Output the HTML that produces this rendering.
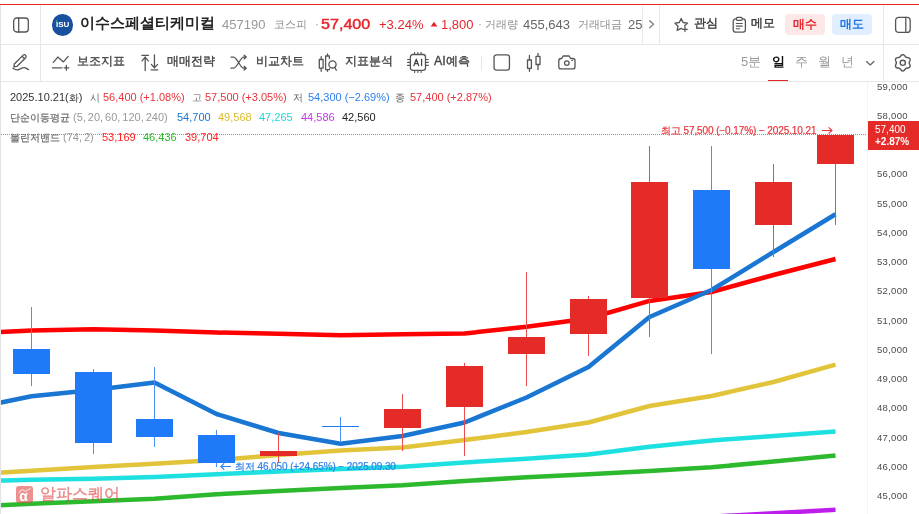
<!DOCTYPE html>
<html lang="ko">
<head>
<meta charset="utf-8">
<title>이수스페셜티케미컬 차트</title>
<style>
*{box-sizing:border-box;margin:0;padding:0}
html,body{width:919px;height:514px;overflow:hidden;background:#fff}
body{position:relative;font-family:"Liberation Sans",sans-serif;color:#333;-webkit-font-smoothing:antialiased}
.abs,.t{position:absolute;white-space:nowrap}
.t{line-height:1}
.hl{position:absolute;height:1px;background:#e7e7e7}
.vl{position:absolute;width:1px;background:#e7e7e7}
svg{position:absolute;overflow:visible}
svg.chart{left:0;top:0}
.ic{fill:none;stroke:#555;stroke-width:1.3;stroke-linecap:round;stroke-linejoin:round}
.g9{color:#999}.g6{color:#666}.g4{color:#444}
.r{color:#e8242b}.b{color:#2f80ed}
.f16{font-size:16px}.f14{font-size:14px}.f13{font-size:13px}.f12{font-size:12px}.f11{font-size:11px}.f10{font-size:10px}
.bd{font-weight:bold}
.tb{font-size:12.4px;-webkit-text-stroke:.35px #444}
.btn{position:absolute;top:14px;width:40px;height:21px;border-radius:4px;font-size:11.5px;font-weight:bold;text-align:center;line-height:21px}
.ax{position:absolute;left:877px;font-size:9.5px;line-height:10px;color:#4a4a4a;letter-spacing:.3px;margin-top:-1.5px}
</style>
</head>
<body>
<div id="root" style="position:absolute;left:0;top:0;width:919px;height:514px;will-change:transform">

<!-- frame -->
<div class="abs" style="left:0;top:4px;width:919px;height:1px;background:#e8242b"></div>
<div class="hl" style="left:0;top:44px;width:919px"></div>
<div class="hl" style="left:0;top:81px;width:919px"></div>
<div class="vl" style="left:40px;top:5px;height:76px"></div>
<div class="vl" style="left:883px;top:5px;height:76px"></div>
<div class="vl" style="left:659px;top:5px;height:39px"></div>
<div class="vl" style="left:867px;top:82px;height:432px;background:#f4f4f4"></div>

<!-- chart -->
<svg class="chart" width="919" height="514" viewBox="0 0 919 514">
<line x1="1" y1="134.5" x2="866" y2="134.5" stroke="#ee6a6e" stroke-width="1" stroke-dasharray="1 1" shape-rendering="crispEdges"/>
<polyline points="-30.50,560.00 31.50,556.00 93.50,552.00 154.50,548.00 216.50,545.00 278.50,541.00 340.50,538.00 402.50,534.00 464.50,531.00 526.50,527.00 588.50,523.70 649.50,520.20 711.50,516.70 773.50,513.20 835.50,509.75" fill="none" stroke="#be1eeb" stroke-width="4.5" stroke-linejoin="round"/>
<polyline points="-30.50,506.80 31.50,503.70 93.50,501.25 154.50,498.75 216.50,494.30 278.50,491.00 340.50,488.00 402.50,485.30 464.50,481.00 526.50,477.30 588.50,474.30 649.50,471.00 711.50,467.25 773.50,461.50 835.50,455.50" fill="none" stroke="#2db92d" stroke-width="4.5" stroke-linejoin="round"/>
<polyline points="-30.50,481.50 31.50,479.80 93.50,478.75 154.50,477.00 216.50,474.20 278.50,471.50 340.50,469.00 402.50,466.75 464.50,462.50 526.50,458.75 588.50,454.50 649.50,446.75 711.50,440.50 773.50,436.00 835.50,431.50" fill="none" stroke="#1ee0e0" stroke-width="4.5" stroke-linejoin="round"/>
<polyline points="-30.50,474.50 31.50,470.75 93.50,467.00 154.50,463.75 216.50,460.00 278.50,455.00 340.50,450.50 402.50,447.50 464.50,440.00 526.50,432.00 588.50,422.50 649.50,406.00 711.50,396.00 773.50,382.00 835.50,364.70" fill="none" stroke="#e1c43a" stroke-width="4.5" stroke-linejoin="round"/>
<polyline points="-30.50,333.50 31.50,330.60 93.50,329.25 154.50,330.50 216.50,332.50 278.50,333.75 340.50,335.25 402.50,334.25 464.50,333.50 526.50,326.75 588.50,318.50 649.50,300.90 711.50,292.00 773.50,275.00 835.50,259.00" fill="none" stroke="#ff0000" stroke-width="4.5" stroke-linejoin="round"/>
<polyline points="-30.50,409.00 31.50,396.25 93.50,390.00 154.50,382.50 216.50,414.00 278.50,433.00 340.50,443.75 402.50,436.00 464.50,422.50 526.50,397.50 588.50,367.00 649.50,317.00 711.50,290.00 773.50,252.00 835.50,214.25" fill="none" stroke="#1976d2" stroke-width="4.5" stroke-linejoin="round"/>
<g shape-rendering="crispEdges">
<rect x="31" y="307.00" width="1" height="79.25" fill="#4a92fb"/>
<rect x="13" y="348.75" width="37" height="25.50" fill="#1f7afa"/>
<rect x="93" y="368.75" width="1" height="85.00" fill="#4a92fb"/>
<rect x="75" y="372.00" width="37" height="71.25" fill="#1f7afa"/>
<rect x="154" y="367.00" width="1" height="79.75" fill="#4a92fb"/>
<rect x="136" y="419.00" width="37" height="17.50" fill="#1f7afa"/>
<rect x="216" y="430.00" width="1" height="37.00" fill="#4a92fb"/>
<rect x="198" y="435.00" width="37" height="27.50" fill="#1f7afa"/>
<rect x="278" y="433.00" width="1" height="29.50" fill="#ea4e4c"/>
<rect x="260" y="451.25" width="37" height="4.25" fill="#e52b28"/>
<rect x="340" y="416.75" width="1" height="25.75" fill="#4a92fb"/>
<rect x="322" y="426.25" width="37" height="1.00" fill="#1f7afa"/>
<rect x="402" y="393.50" width="1" height="57.25" fill="#ea4e4c"/>
<rect x="384" y="409.00" width="37" height="18.50" fill="#e52b28"/>
<rect x="464" y="363.00" width="1" height="92.50" fill="#ea4e4c"/>
<rect x="446" y="365.60" width="37" height="41.20" fill="#e52b28"/>
<rect x="526" y="271.75" width="1" height="114.50" fill="#ea4e4c"/>
<rect x="508" y="336.80" width="37" height="16.95" fill="#e52b28"/>
<rect x="588" y="295.50" width="1" height="60.00" fill="#ea4e4c"/>
<rect x="570" y="299.00" width="37" height="35.00" fill="#e52b28"/>
<rect x="649" y="146.20" width="1" height="190.50" fill="#ea4e4c"/>
<rect x="631" y="182.00" width="37" height="116.30" fill="#e52b28"/>
<rect x="711" y="146.20" width="1" height="207.60" fill="#4a92fb"/>
<rect x="693" y="190.10" width="37" height="78.70" fill="#1f7afa"/>
<rect x="773" y="163.80" width="1" height="93.20" fill="#ea4e4c"/>
<rect x="755" y="182.00" width="37" height="42.80" fill="#e52b28"/>
<rect x="835" y="134.00" width="1" height="90.50" fill="#ea4e4c"/>
<rect x="817" y="135.00" width="37" height="28.60" fill="#e52b28"/>
</g>
</svg>
<div class="vl" style="left:0;top:5px;height:509px;background:#e2e2e2"></div>

<!-- top bar -->
<svg style="left:12px;top:16px" width="18" height="18" viewBox="0 0 18 18"><rect class="ic" x="1.7" y="2" width="14.6" height="14" rx="3"/><line class="ic" x1="6.7" y1="2" x2="6.7" y2="16"/></svg>

<div class="abs" style="left:51.8px;top:14px;width:21.6px;height:21.6px;border-radius:50%;background:#17509f;color:#fff;font-size:8px;font-weight:bold;line-height:22.4px;text-align:center;letter-spacing:0">ISU<span style="position:absolute;left:4.2px;top:6.4px;width:1.4px;height:1.4px;border-radius:50%;background:#3fbf6a"></span></div>

<div class="t bd" style="left:80px;top:16px;font-size:14.8px;color:#222">이수스페셜티케미컬</div>
<div class="t f13 g9" style="left:222px;top:18px">457190</div>
<div class="t" style="left:274px;top:18.5px;font-size:11.1px;color:#8e8e8e">코스피</div>
<div class="t f12 g9" style="left:315px;top:18px">·</div>
<div class="t r" style="left:321px;top:17px;font-size:14px;transform:scaleX(1.15);transform-origin:0 0;-webkit-text-stroke:.45px #e8242b">57,400</div>
<div class="t f13 r" style="left:379px;top:18px">+3.24%</div>
<svg style="left:430px;top:20px" width="8" height="8" viewBox="0 0 8 8"><path d="M4 1.8 L7.4 6.6 L0.6 6.6 Z" fill="#e8242b"/></svg>
<div class="t f13 r" style="left:441px;top:18px">1,800</div>
<div class="t f12 g9" style="left:478px;top:18px">·</div>
<div class="t" style="left:484.5px;top:18.5px;font-size:11.1px;color:#8e8e8e">거래량</div>
<div class="t f13 g6" style="left:523px;top:18px">455,643</div>
<div class="t" style="left:577.5px;top:18.5px;font-size:11.1px;color:#8e8e8e">거래대금</div>
<div class="t f13 g6" style="left:628px;top:18px">25</div>
<div class="abs" style="left:642px;top:6px;width:17px;height:38px;background:#fff;border-left:1px solid #e9e9e9"></div>
<svg style="left:647px;top:19px" width="10" height="12" viewBox="0 0 10 12"><path class="ic" style="stroke:#8a8a8a;stroke-width:1.5" d="M2.7 1.9 L6.6 5.3 L2.7 8.7"/></svg>

<svg style="left:672px;top:17px" width="18" height="16" viewBox="0 0 18 16"><path class="ic" d="M9.2 1.6 L11.1 5.5 L15.5 6.1 L12.7 8.8 M9.2 1.6 L7.3 5.5 L2.9 6.1 L6 9.2 L5.2 13.4 L9.2 11.3 L9.9 11.7 M13 10 V14.6 M10.7 12.3 H15.3"/></svg>
<div class="t" style="left:694px;top:17px;font-size:12px;color:#333;-webkit-text-stroke:.35px #333">관심</div>
<svg style="left:731px;top:15px" width="17" height="19" viewBox="0 0 17 19"><rect class="ic" x="2.2" y="3.9" width="12.2" height="13.3" rx="2.4"/><rect class="ic" x="5.4" y="2.4" width="5.8" height="2.9" rx="1.2" style="fill:#fff"/><path class="ic" style="stroke-width:1.1" d="M5.3 8.5 H11.3 M5.3 11.1 H11.3 M5.3 13.7 H8.7"/></svg>
<div class="t" style="left:751px;top:17px;font-size:12px;color:#333;-webkit-text-stroke:.35px #333">메모</div>
<div class="btn" style="left:785px;background:#fde8e8;color:#e8242b">매수</div>
<div class="btn" style="left:832px;background:#e1eeff;color:#1a73e8">매도</div>
<svg style="left:894px;top:16px" width="18" height="18" viewBox="0 0 18 18"><rect class="ic" x="1.6" y="1.4" width="14.6" height="15" rx="3"/><line class="ic" x1="11.8" y1="1.4" x2="11.8" y2="16.4"/></svg>

<!-- second bar -->
<svg style="left:12px;top:54px" width="18" height="18" viewBox="0 0 18 18"><path class="ic" d="M2.33 9.93 L11.13 1.13 A1.8 1.8 0 0 1 13.67 3.67 L4.87 12.47 L1.9 12.9 Z M10.03 2.23 L12.57 4.77"/><path class="ic" d="M1 14.2 C2.8 15.6 5 16.4 7.2 15.4 S10.6 13.2 12.6 13.6 S15.2 15 16.4 15.6"/></svg>

<svg style="left:52px;top:55px" width="18" height="16" viewBox="0 0 18 16"><path class="ic" d="M1.3 7.3 L5.8 2.05 L11.4 6.9 L16.2 1.4"/><path class="ic" d="M0.4 12.85 H10 M14.35 10.5 V15.2 M12.1 12.85 H16.8"/></svg>
<div class="t g4 tb" style="left:77px;top:55px">보조지표</div>

<svg style="left:140px;top:54px" width="20" height="18" viewBox="0 0 20 18"><path class="ic" d="M1.9 1.3 H8.5 M5.2 3 V16.6 M2.1 6.9 L5.2 3.2 L8.3 6.9 M14.45 1 V13.6 M11.3 10.4 L14.45 13.8 L17.6 10.4 M11.2 15.9 H17.7"/></svg>
<div class="t g4 tb" style="left:167px;top:55px">매매전략</div>

<svg style="left:230px;top:54px" width="18" height="18" viewBox="0 0 18 18"><path class="ic" d="M1 3.05 H3.4 C7.4 3.05 10.2 14.2 13.6 14.2 H16 M1 14.2 H3.4 C7.4 14.2 10.2 3.05 13.6 3.05 H16 M14.1 1.2 L16.3 3.05 L14.1 4.9 M14.1 12.35 L16.3 14.2 L14.1 16.05"/></svg>
<div class="t g4 tb" style="left:256px;top:55px">비교차트</div>

<svg style="left:318px;top:53px" width="20" height="20" viewBox="0 0 20 20"><path class="ic" d="M3.2 3.7 V6.5 M3.2 15.2 V18.3 M1.3 6.5 H5.1 V15.2 H1.3 Z M9.5 0.9 V3 M9.5 16.6 V18.3 M11.4 5.6 V3 H7.6 V16.6 H11.4 V15.8"/><circle class="ic" cx="14.5" cy="11.4" r="3.6"/><path class="ic" d="M16.8 14.3 L18.3 17.2"/></svg>
<div class="t g4 tb" style="left:345px;top:55px">지표분석</div>

<svg style="left:407px;top:52px" width="22" height="21" viewBox="0 0 22 21"><rect class="ic" x="3.4" y="2.5" width="15.1" height="15.8" rx="2.4"/><path class="ic" style="stroke-width:1.1" d="M0.6 7.5 H3.2 M0.6 10.4 H3.2 M0.6 13.4 H3.2 M18.7 7.5 H21.3 M18.7 10.4 H21.3 M18.7 13.4 H21.3 M7.6 0.4 V2.3 M10.9 0.4 V2.3 M14.1 0.4 V2.3 M7.6 18.5 V20.4 M10.9 18.5 V20.4 M14.1 18.5 V20.4"/><path class="ic" style="stroke-width:1.25;stroke:#444" d="M6.9 13.6 L9.3 7.2 L11.7 13.6 M7.7 11.6 H10.9 M14.6 7.2 V13.6"/></svg>
<div class="t g4 tb" style="left:434px;top:55px">AI예측</div>

<div class="vl" style="left:481px;top:56px;height:15px;background:#e6e6e6"></div>
<svg style="left:492px;top:53px" width="20" height="19" viewBox="0 0 20 19"><rect class="ic" x="2.05" y="1.85" width="15.4" height="15.2" rx="2.4"/></svg>
<svg style="left:525px;top:52px" width="18" height="21" viewBox="0 0 18 21"><path class="ic" d="M4.45 3.4 V8 M4.45 16.3 V19.3 M2.5 8 H6.4 V16.3 H2.5 Z M13 1.4 V4.4 M13 12.5 V17.5 M11 4.4 H15 V12.5 H11 Z"/></svg>
<svg style="left:557px;top:54px" width="20" height="17" viewBox="0 0 20 17"><path class="ic" d="M4 4.5 H4.8 L6.2 2 H12.2 L13.6 4.5 H15.8 a2.2 2.2 0 0 1 2.2 2.2 V12.7 a2.2 2.2 0 0 1 -2.2 2.2 H4 a2.2 2.2 0 0 1 -2.2 -2.2 V6.7 a2.2 2.2 0 0 1 2.2 -2.2 Z"/><circle class="ic" cx="9.8" cy="9.1" r="2.3"/><path class="ic" d="M14.8 6.3 H15.4"/></svg>

<div class="t f13 g9" style="left:741px;top:55px">5분</div>
<div class="t f13 bd" style="left:772px;top:55px;color:#111">일</div>
<div class="abs" style="left:768px;top:79.6px;width:20px;height:1.4px;background:#e8242b"></div>
<div class="t f13 g9" style="left:795px;top:55px">주</div>
<div class="t f13 g9" style="left:818px;top:55px">월</div>
<div class="t f13 g9" style="left:841px;top:55px">년</div>
<svg style="left:864px;top:59px" width="12" height="8" viewBox="0 0 12 8"><path class="ic" style="stroke:#666" d="M2.5 2.5 L6.2 5.9 L9.9 2.5"/></svg>
<svg style="left:893px;top:53px" width="20" height="20" viewBox="0 0 20 20"><path class="ic" style="stroke-width:1.4" d="M16.20 9.80 L16.30 9.23 L16.55 8.61 L16.85 7.91 L17.08 7.15 L17.12 6.39 L16.90 5.70 L16.42 5.17 L15.74 4.82 L14.96 4.64 L14.20 4.55 L13.54 4.46 L13.00 4.26 L12.56 3.89 L12.14 3.36 L11.69 2.75 L11.15 2.17 L10.50 1.75 L9.80 1.60 L9.10 1.75 L8.45 2.17 L7.91 2.75 L7.46 3.36 L7.04 3.89 L6.60 4.26 L6.06 4.46 L5.40 4.55 L4.64 4.64 L3.86 4.82 L3.18 5.17 L2.70 5.70 L2.48 6.39 L2.52 7.15 L2.75 7.91 L3.05 8.61 L3.30 9.23 L3.40 9.80 L3.30 10.37 L3.05 10.99 L2.75 11.69 L2.52 12.45 L2.48 13.21 L2.70 13.90 L3.18 14.43 L3.86 14.78 L4.64 14.96 L5.40 15.05 L6.06 15.14 L6.60 15.34 L7.04 15.71 L7.46 16.24 L7.91 16.85 L8.45 17.43 L9.10 17.85 L9.80 18.00 L10.50 17.85 L11.15 17.43 L11.69 16.85 L12.14 16.24 L12.56 15.71 L13.00 15.34 L13.54 15.14 L14.20 15.05 L14.96 14.96 L15.74 14.78 L16.42 14.43 L16.90 13.90 L17.12 13.21 L17.08 12.45 L16.85 11.69 L16.55 10.99 L16.30 10.37 Z"/><circle class="ic" style="stroke-width:1.4" cx="9.8" cy="9.8" r="2.6"/></svg>

<!-- info rows -->
<div class="t f11" style="left:10px;top:92px;color:#333">2025.10.21(<span class="f10">화</span>)</div>
<div class="t f10 g6" style="left:90px;top:92.5px">시</div>
<div class="t f11" style="left:103px;top:92px;color:#e8343a">56,400 (+1.08%)</div>
<div class="t f10 g6" style="left:192px;top:92.5px">고</div>
<div class="t f11" style="left:205px;top:92px;color:#e8343a">57,500 (+3.05%)</div>
<div class="t f10 g6" style="left:293px;top:92.5px">저</div>
<div class="t f11" style="left:308px;top:92px;color:#2f80ed">54,300 (−2.69%)</div>
<div class="t f10 g6" style="left:395px;top:92.5px">종</div>
<div class="t f11" style="left:410px;top:92px;color:#e8343a">57,400 (+2.87%)</div>

<div class="t f10" style="left:10px;top:112.5px;color:#6a6a6a;-webkit-text-stroke:.2px #6a6a6a">단순이동평균</div>
<div class="t f11" style="left:73px;top:112px;color:#999;word-spacing:-1.1px">(5, 20, 60, 120, 240)</div>
<div class="t f11" style="left:177px;top:112px;color:#1976d2">54,700</div>
<div class="t f11" style="left:218px;top:112px;color:#d9bd30">49,568</div>
<div class="t f11" style="left:259px;top:112px;color:#1fd6d6">47,265</div>
<div class="t f11" style="left:301px;top:112px;color:#c23be6">44,586</div>
<div class="t f11" style="left:342px;top:112px;color:#222">42,560</div>

<div class="t f10" style="left:10px;top:132.5px;color:#6a6a6a;-webkit-text-stroke:.2px #6a6a6a">볼린저밴드</div>
<div class="t f11" style="left:63px;top:132px;color:#999;word-spacing:-1.1px">(74, 2)</div>
<div class="t f11" style="left:102px;top:132px;color:#ff2222">53,169</div>
<div class="t f11" style="left:143px;top:132px;color:#2db92d">46,436</div>
<div class="t f11" style="left:185px;top:132px;color:#ff2222">39,704</div>

<!-- high / low labels -->
<div class="t f10" style="left:661px;top:126px;color:#e8343a;letter-spacing:-.1px;-webkit-text-stroke:.2px #e8343a">최고 57,500 (−0.17%) − 2025.10.21</div>
<svg style="left:821px;top:126px" width="13" height="9" viewBox="0 0 13 9"><path d="M0.8 4.5 H11 M7.6 1.4 L11 4.5 L7.6 7.6" fill="none" stroke="#e8343a" stroke-width="1.1"/></svg>
<svg style="left:219px;top:462px" width="13" height="9" viewBox="0 0 13 9"><path d="M12 4.5 H1.8 M5.2 1.4 L1.8 4.5 L5.2 7.6" fill="none" stroke="#2f80ed" stroke-width="1.1"/></svg>
<div class="t f10" style="left:235px;top:461.5px;color:#2f80ed;letter-spacing:-.1px;-webkit-text-stroke:.2px #2f80ed">최저 46,050 (+24.65%) − 2025.09.30</div>

<!-- price axis -->
<div class="ax" style="top:83px">59,000</div>
<div class="ax" style="top:112px">58,000</div>
<div class="ax" style="top:170px">56,000</div>
<div class="ax" style="top:200px">55,000</div>
<div class="ax" style="top:229px">54,000</div>
<div class="ax" style="top:258px">53,000</div>
<div class="ax" style="top:287px">52,000</div>
<div class="ax" style="top:317px">51,000</div>
<div class="ax" style="top:346px">50,000</div>
<div class="ax" style="top:375px">49,000</div>
<div class="ax" style="top:404px">48,000</div>
<div class="ax" style="top:434px">47,000</div>
<div class="ax" style="top:463px">46,000</div>
<div class="ax" style="top:492px">45,000</div>
<div class="abs" style="left:868px;top:121px;width:51px;height:29px;background:#e52b28;color:#fff;font-size:10px;line-height:12px;padding:3px 0 0 7px">57,400<br><b>+2.87%</b></div>

<!-- watermark -->
<div class="abs" style="left:15.5px;top:485.5px;width:17.5px;height:17.5px;border-radius:3px;background:rgba(226,76,76,.62)">
<svg style="left:0;top:0" width="17.5" height="17.5" viewBox="0 0 17.5 17.5"><path d="M2.6 6.6 L6.6 3.6 L9.4 5.4 L14.6 2.4" fill="none" stroke="#fff" stroke-width="1" stroke-opacity=".85"/></svg>
<div class="t" style="left:3.8px;top:3.6px;font-size:14px;font-weight:bold;color:#fff">α</div>
</div>
<div class="t" style="left:40px;top:486px;font-size:16px;letter-spacing:0;color:rgba(226,76,76,.62);-webkit-text-stroke:.4px rgba(226,76,76,.5)">알파스퀘어</div>

</div>
</body>
</html>
